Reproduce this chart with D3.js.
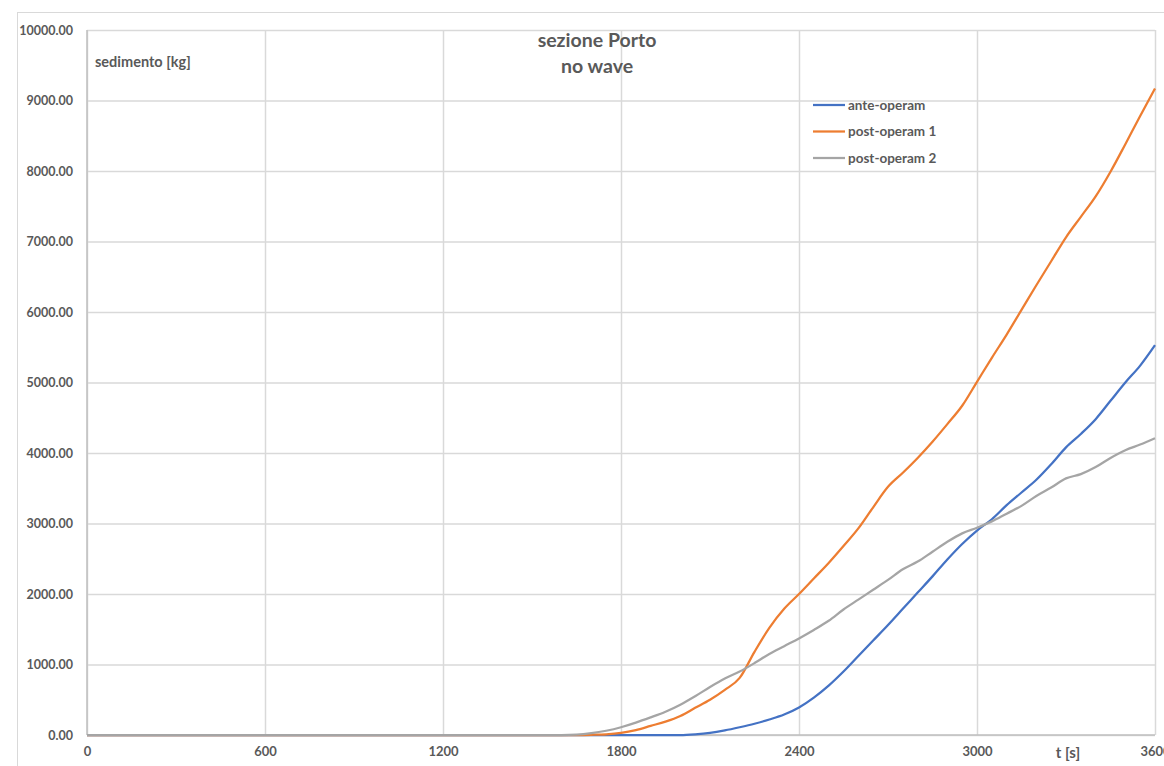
<!DOCTYPE html>
<html>
<head>
<meta charset="utf-8">
<script src="https://cdn.jsdelivr.net/npm/d3@7"></script>
<style>
  html, body { margin: 0; padding: 0; background: #ffffff; }
  svg { display: block; }
  text { font-family: Lato, "Open Sans", sans-serif; font-weight: bold; fill: #595959; }
</style>
</head>
<body>
<svg id="chart" width="1164" height="766"></svg>
<script>
// Time axis (s) and sediment amounts (kg) for each configuration
const times = [0, 1600, 1650, 1700, 1750, 1800, 1850, 1900, 1950, 2000, 2050, 2100, 2150, 2200,
  2250, 2300, 2350, 2400, 2450, 2500, 2550, 2600, 2650, 2700, 2750, 2800, 2850, 2900, 2950,
  3000, 3050, 3100, 3150, 3200, 3250, 3300, 3350, 3400, 3450, 3500, 3550, 3600];

const anteOperam = [0, 0, 0, 0, 0, 0, 0, 0, 0, 0, 10, 30, 65, 110,
  160, 220, 290, 390, 530, 700, 900, 1120, 1340, 1560, 1790, 2020, 2250, 2490, 2710,
  2900, 3060, 3260, 3440, 3620, 3840, 4080, 4270, 4480, 4740, 5000, 5240, 5530];

const postOperam1 = [0, 0, 0, 3, 10, 30, 70, 130, 190, 270, 385, 500, 640, 810,
  1180, 1520, 1790, 2000, 2220, 2440, 2680, 2930, 3230, 3520, 3720, 3930, 4160, 4410, 4670,
  5010, 5350, 5680, 6030, 6380, 6720, 7060, 7350, 7640, 7990, 8380, 8780, 9170];

const postOperam2 = [0, 0, 5, 25, 60, 110, 175, 250, 330, 430, 550, 680, 800, 900,
  1020, 1150, 1260, 1370, 1490, 1620, 1780, 1920, 2060, 2200, 2350, 2460, 2600, 2740, 2860,
  2940, 3030, 3140, 3250, 3390, 3510, 3640, 3700, 3800, 3930, 4040, 4120, 4210];

const seriesNames = ["ante-operam", "post-operam 1", "post-operam 2"];
const seriesColors = ["#4472C4", "#ED7D31", "#A5A5A5"];
const xTicks = [0, 600, 1200, 1800, 2400, 3000, 3600];
const yTicks = [0, 1000, 2000, 3000, 4000, 5000, 6000, 7000, 8000, 9000, 10000];

const series = [anteOperam, postOperam1, postOperam2].map((vals, i) => ({
  name: seriesNames[i],
  color: seriesColors[i],
  points: times.map((t, j) => ({ t, v: vals[j] }))
}));

const svg = d3.select("#chart");
const plot = { left: 87, right: 1155, top: 30, bottom: 735 };

const x = d3.scaleLinear().domain([0, 3600]).range([plot.left, plot.right]);
const y = d3.scaleLinear().domain([0, 10000]).range([plot.bottom, plot.top]);

// Chart frame
svg.append("rect")
  .attr("x", 17.5).attr("y", 12.5)
  .attr("width", 1200).attr("height", 800)
  .attr("fill", "none").attr("stroke", "#d9d9d9").attr("stroke-width", 1);

// Horizontal gridlines + value labels
const yAxis = svg.append("g")
  .attr("transform", `translate(${plot.left},0)`)
  .call(d3.axisLeft(y).tickValues(yTicks).tickFormat(d3.format(".2f"))
    .tickSize(-(plot.right - plot.left)).tickPadding(14));
yAxis.select(".domain").remove();
yAxis.selectAll(".tick line").attr("stroke", "#d9d9d9").attr("stroke-width", 1.5);
yAxis.selectAll(".tick text").attr("font-size", 12.5).attr("fill", "#595959")
  .attr("font-family", "Lato, sans-serif").attr("font-weight", "bold");

// Vertical gridlines + time labels
const xAxis = svg.append("g")
  .attr("transform", `translate(0,${plot.bottom})`)
  .call(d3.axisBottom(x).tickValues(xTicks).tickFormat(d3.format("d"))
    .tickSize(-(plot.bottom - plot.top)).tickPadding(12));
xAxis.select(".domain").remove();
xAxis.selectAll(".tick line").attr("stroke", "#d9d9d9").attr("stroke-width", 1.5);
xAxis.selectAll(".tick text").attr("font-size", 13).attr("fill", "#595959")
  .attr("font-family", "Lato, sans-serif").attr("font-weight", "bold");

// Axis baselines
svg.append("line")
  .attr("x1", plot.left).attr("x2", plot.right)
  .attr("y1", y(0)).attr("y2", y(0))
  .attr("stroke", "#bfbfbf").attr("stroke-width", 1.5);
svg.append("line")
  .attr("x1", x(0)).attr("x2", x(0))
  .attr("y1", plot.top).attr("y2", plot.bottom)
  .attr("stroke", "#bfbfbf").attr("stroke-width", 1.5);

// Data lines
const line = d3.line()
  .x(d => x(d.t))
  .y(d => y(d.v))
  .curve(d3.curveMonotoneX);

svg.append("g").selectAll("path")
  .data(series)
  .join("path")
  .attr("d", d => line(d.points))
  .attr("fill", "none")
  .attr("stroke", d => d.color)
  .attr("stroke-width", 2.25)
  .attr("stroke-linejoin", "round");

// Title
const title = svg.append("text")
  .attr("x", 597).attr("text-anchor", "middle")
  .attr("font-size", 19.5);
title.append("tspan").attr("x", 597).attr("y", 47).text("sezione Porto");
title.append("tspan").attr("x", 597).attr("y", 73).text("no wave");

// Axis titles
svg.append("text")
  .attr("x", 95).attr("y", 67)
  .attr("font-size", 14.5)
  .text("sedimento [kg]");

svg.append("text")
  .attr("x", 1068).attr("y", 758)
  .attr("text-anchor", "middle")
  .attr("font-size", 15)
  .text("t [s]");

// Legend
const legend = svg.append("g");
const legendRows = legend.selectAll("g")
  .data(series)
  .join("g")
  .attr("transform", (d, i) => `translate(813,${105 + i * 26.5})`);
legendRows.append("line")
  .attr("x1", 0).attr("x2", 32)
  .attr("stroke", d => d.color).attr("stroke-width", 2.25);
legendRows.append("text")
  .attr("x", 35).attr("dy", "0.35em")
  .attr("font-size", 13.5)
  .text(d => d.name);
</script>
</body>
</html>
